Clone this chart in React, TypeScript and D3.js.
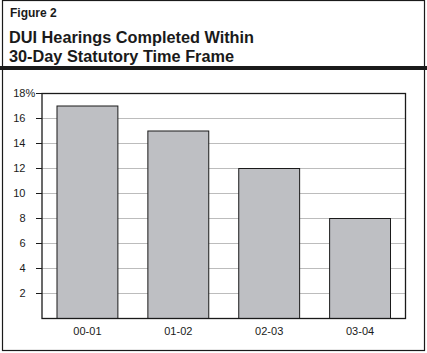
import React from "react";
import * as d3 from "d3";

const categories = ["00-01", "01-02", "02-03", "03-04"];
const values = [17, 15, 12, 8];
const yTicks = [2, 4, 6, 8, 10, 12, 14, 16, 18];

const W = 427;
const H = 353;
const plot = { left: 42, right: 405.5, top: 93.5, bottom: 318.5 };
const font = "'Liberation Sans', Arial, Helvetica, sans-serif";

export default function App() {
  const x = d3
    .scaleBand<string>()
    .domain(categories)
    .range([plot.left, plot.right])
    .paddingInner(0.33)
    .paddingOuter(0.165);
  const y = d3.scaleLinear().domain([0, 18]).range([plot.bottom, plot.top]);

  return (
    <svg
      width={W}
      height={H}
      style={{ position: "absolute", left: 0, top: 0 }}
      fontFamily={font}
    >
      <rect x={0} y={0} width={W} height={H} fill="#fff" />
      <rect x={2.5} y={0.5} width={422} height={350} fill="none" stroke="#1a1a1a" strokeWidth={1.2} />
      <text x={10} y={17.3} fontSize={12} fontWeight="bold" fill="#1a1a1a">
        Figure 2
      </text>
      <text x={9} y={42.7} fontSize={16.3} fontWeight="bold" fill="#1a1a1a">
        DUI Hearings Completed Within
      </text>
      <text x={9} y={61.7} fontSize={16.3} fontWeight="bold" fill="#1a1a1a">
        30-Day Statutory Time Frame
      </text>
      <rect x={0} y={66} width={W} height={4} fill="#1a1a1a" />

      {yTicks.map((t) => (
        <g key={t}>
          {t < 18 && (
            <line x1={plot.left} x2={plot.right} y1={y(t)} y2={y(t)} stroke="#bcbcbc" strokeWidth={1} />
          )}
          <line x1={36} x2={plot.left} y1={y(t)} y2={y(t)} stroke="#1a1a1a" strokeWidth={1} />
          <text x={25.5} y={y(t)} dy="0.35em" fontSize={11} textAnchor="end" fill="#1a1a1a">
            {String(t)}
          </text>
          {t === 18 && (
            <text x={25.5} y={y(t)} dy="0.35em" fontSize={11} textAnchor="start" fill="#1a1a1a">
              %
            </text>
          )}
        </g>
      ))}

      {categories.map((c, i) => (
        <g key={c}>
          <rect
            x={x(c)!}
            y={y(values[i])}
            width={x.bandwidth()}
            height={y(0) - y(values[i])}
            fill="#bebfc3"
            stroke="#1a1a1a"
            strokeWidth={1}
          />
          <text
            x={x(c)! + x.bandwidth() / 2}
            y={335}
            fontSize={11}
            textAnchor="middle"
            fill="#1a1a1a"
          >
            {c}
          </text>
        </g>
      ))}

      <rect
        x={plot.left}
        y={plot.top}
        width={plot.right - plot.left}
        height={plot.bottom - plot.top}
        fill="none"
        stroke="#1a1a1a"
        strokeWidth={1.3}
      />
    </svg>
  );
}
